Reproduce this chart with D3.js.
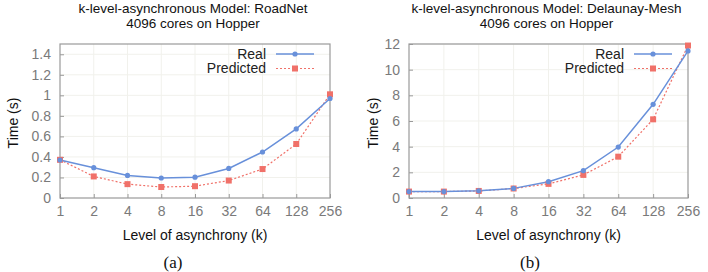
<!DOCTYPE html>
<html>
<head>
<meta charset="utf-8">
<script src="https://cdn.jsdelivr.net/npm/d3@7"></script>
<style>
  body { margin: 0; background: #fff; }
  svg { display: block; }
  text { font-family: "Liberation Sans", Arial, Helvetica, sans-serif; }
</style>
</head>
<body>
<svg id="chart" width="708" height="272"></svg>
<script>
const levels = [1, 2, 4, 8, 16, 32, 64, 128, 256]

const roadReal = [0.37, 0.295, 0.22, 0.195, 0.203, 0.288, 0.448, 0.673, 0.969]
const roadPredicted = [0.372, 0.21, 0.135, 0.107, 0.115, 0.17, 0.282, 0.526, 1.01]
const roadTicks = [0, 0.2, 0.4, 0.6, 0.8, 1, 1.2, 1.4]

const meshReal = [0.5, 0.5, 0.56, 0.75, 1.27, 2.13, 3.97, 7.3, 11.46]
const meshPredicted = [0.5, 0.5, 0.55, 0.74, 1.1, 1.8, 3.22, 6.13, 11.88]
const meshTicks = [0, 2, 4, 6, 8, 10, 12]

const realColor = '#6890da'
const predColor = '#f07169'

const svg = d3.select('#chart')

function drawPanel(opts) {
  let x = d3.scaleLog().base(2).domain([1, 256]).range([opts.left, opts.right])
  let y = d3.scaleLinear().domain([0, opts.ymax]).range([198, 44])

  let g = svg.append('g').attr('class', 'panel')

  // grid
  g.selectAll('line.vgrid').data(levels.slice(1, -1))
    .enter().append('line')
      .attr('x1', d => x(d)).attr('x2', d => x(d))
      .attr('y1', y.range()[0]).attr('y2', y.range()[1])
      .style('stroke', '#f1f1ec').style('stroke-width', 1)
  g.selectAll('line.hgrid').data(opts.ticks.slice(1))
    .enter().append('line')
      .attr('x1', opts.left).attr('x2', opts.right)
      .attr('y1', d => y(d)).attr('y2', d => y(d))
      .style('stroke', '#f1f1ec').style('stroke-width', 1)

  // axes (ticks inward)
  let yAxis = g.append('g')
    .attr('transform', `translate(${ opts.left },0)`)
    .call(d3.axisLeft(y).tickValues(opts.ticks).tickSize(-4).tickPadding(9).tickFormat(d3.format('~g')))
  let xAxis = g.append('g')
    .attr('transform', `translate(0,198)`)
    .call(d3.axisBottom(x).tickValues(levels).tickSize(-4).tickPadding(8).tickFormat(d => d))
  ;[yAxis, xAxis].forEach(a => {
    a.select('.domain').remove()
    a.selectAll('line').style('stroke', '#9a9a9a')
    a.selectAll('text').style('fill', '#7a7a7a').style('font-size', '14px')
      .style('font-family', '"Liberation Sans", Arial, sans-serif')
  })

  g.append('rect')
    .attr('x', opts.left).attr('y', 44)
    .attr('width', opts.right - opts.left).attr('height', 154)
    .style('fill', 'none').style('stroke', '#9a9a9a').style('stroke-width', 1.2)

  // series
  let line = d3.line().x((d, i) => x(levels[i])).y(d => y(d))

  g.append('path').datum(opts.pred)
    .attr('d', line)
    .style('fill', 'none').style('stroke', predColor)
    .style('stroke-width', 1.2).style('stroke-dasharray', '2,2')
  g.append('path').datum(opts.real)
    .attr('d', line)
    .style('fill', 'none').style('stroke', realColor).style('stroke-width', 1.5)

  g.selectAll('rect.pred').data(opts.pred)
    .enter().append('rect')
      .attr('x', (d, i) => x(levels[i]) - 3).attr('y', d => y(d) - 3)
      .attr('width', 6).attr('height', 6)
      .style('fill', predColor)
  g.selectAll('circle.real').data(opts.real)
    .enter().append('circle')
      .attr('cx', (d, i) => x(levels[i])).attr('cy', d => y(d))
      .attr('r', 2.6)
      .style('fill', realColor)

  // legend
  let lx = opts.right - 54, lw = 38
  let legend = [
    { key: 'Real', color: realColor, dash: null, y: 54 },
    { key: 'Predicted', color: predColor, dash: '2,2', y: 68.5 }
  ]
  legend.forEach(l => {
    g.append('text').attr('x', lx - 10).attr('y', l.y).attr('dy', '0.35em')
      .attr('text-anchor', 'end').style('font-size', '14px').style('fill', '#222')
      .text(l.key)
    g.append('line')
      .attr('x1', lx).attr('x2', lx + lw).attr('y1', l.y).attr('y2', l.y)
      .style('stroke', l.color).style('stroke-width', l.dash ? 1.2 : 1.5)
      .style('stroke-dasharray', l.dash)
    if (l.dash) {
      g.append('rect').attr('x', lx + lw / 2 - 3).attr('y', l.y - 3)
        .attr('width', 6).attr('height', 6).style('fill', l.color)
    } else {
      g.append('circle').attr('cx', lx + lw / 2).attr('cy', l.y).attr('r', 2.6)
        .style('fill', l.color)
    }
  })

  // titles and labels
  let cx = (opts.left + opts.right) / 2
  g.append('text').attr('x', cx - 2).attr('y', 12.5).attr('text-anchor', 'middle')
    .style('font-size', '13.5px').style('fill', '#111')
    .text(opts.title)
  g.append('text').attr('x', cx - 2).attr('y', 27.5).attr('text-anchor', 'middle')
    .style('font-size', '13.5px').style('fill', '#111')
    .text('4096 cores on Hopper')

  g.append('text').attr('x', cx).attr('y', 235).attr('dy', '0.35em')
    .attr('text-anchor', 'middle').style('font-size', '14px').style('fill', '#111')
    .text('Level of asynchrony (k)')
  g.append('text')
    .attr('transform', `translate(${ opts.ylabelX },123) rotate(-90)`)
    .attr('dy', '0.35em')
    .attr('text-anchor', 'middle').style('font-size', '14px').style('fill', '#111')
    .text('Time (s)')
  g.append('text').attr('x', opts.capX).attr('y', 262).attr('dy', '0.35em')
    .attr('text-anchor', 'middle').style('font-size', '17px').style('fill', '#111')
    .style('font-family', '"Liberation Serif", "Times New Roman", serif')
    .text(opts.caption)
}

drawPanel({
  left: 60, right: 330, ymax: 1.5, ticks: roadTicks,
  real: roadReal, pred: roadPredicted,
  title: 'k-level-asynchronous Model: RoadNet',
  ylabelX: 13, capX: 173, caption: '(a)'
})

drawPanel({
  left: 409, right: 688, ymax: 12, ticks: meshTicks,
  real: meshReal, pred: meshPredicted,
  title: 'k-level-asynchronous Model: Delaunay-Mesh',
  ylabelX: 373, capX: 530, caption: '(b)'
})
</script>
</body>
</html>
